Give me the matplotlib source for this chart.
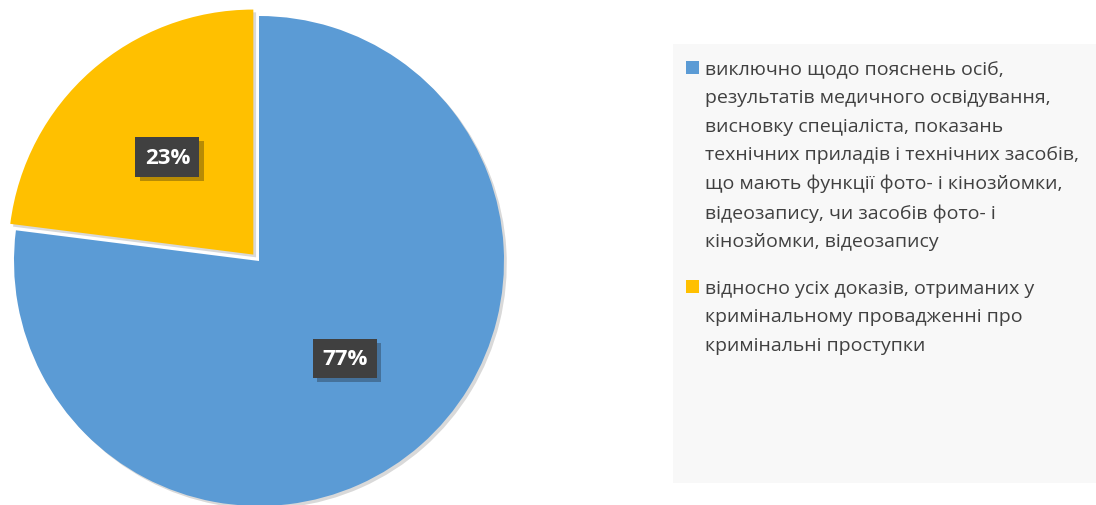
import matplotlib.pyplot as plt
import matplotlib.patches as mpatches
import matplotlib.patheffects as pe

plt.rcParams['font.family'] = ['Open Sans', 'DejaVu Sans']

# categories and shares (%)
categories = [
	'виключно щодо пояснень осіб,\nрезультатів медичного освідування,\nвисновку спеціаліста, показань\n'
	'технічних приладів і технічних засобів,\nщо мають функції фото- і кінозйомки,\n'
	'відеозапису, чи засобів фото- і\nкінозйомки, відеозапису',
	'відносно усіх доказів, отриманих у\nкримінальному провадженні про\nкримінальні проступки',
]
shares = [77, 23]
colors = ['#5B9BD5', '#FFC000']

W, H = 1096, 506
fig = plt.figure(figsize=(W / 100, H / 100), dpi=100)
fig.patch.set_facecolor('white')

# pie axes: centre (259, 262) px, radius 245 px
cx, cy, r = 259, 262, 245
ax = fig.add_axes([(cx - r) / W, (H - cy - r) / H, 2 * r / W, 2 * r / H])

wedges, texts, autotexts = ax.pie(
	shares, colors=colors, startangle=90, counterclock=False,
	explode=[0, 0.035], autopct='%d%%', pctdistance=0.53,
	wedgeprops=dict(linewidth=0),
	textprops=dict(color='white', fontsize=16, fontweight='bold'))
ax.set_xlim(-1, 1)
ax.set_ylim(-1, 1)
ax.set_aspect('equal')
ax.axis('off')

for w in wedges:
	w.set_path_effects([pe.SimplePatchShadow(offset=(2, -2), shadow_rgbFace='black', alpha=0.15), pe.Normal()])

for t in autotexts:
	t.set_bbox(dict(boxstyle='square,pad=0.42', facecolor='#404040', edgecolor='none', linewidth=0))
	t.get_bbox_patch().set_path_effects([pe.SimplePatchShadow(offset=(3, -3), alpha=0.3), pe.Normal()])

# legend panel
fig.add_artist(mpatches.Rectangle((673 / W, 1 - 484 / H), (W - 673) / W, (484 - 45) / H,
                                  transform=fig.transFigure, facecolor='#F8F8F8', edgecolor='none'))

tops = [62, 281]
for label, color, top in zip(categories, colors, tops):
	fig.add_artist(mpatches.Rectangle((686 / W, 1 - (top + 13) / H), 13 / W, 13 / H,
	                                  transform=fig.transFigure, facecolor=color, edgecolor='none'))
	fig.text(705 / W, 1 - (top - 1) / H, label, ha='left', va='top', fontsize=14,
	         color='#404040', linespacing=1.74)

fig.savefig('out.png', dpi=100)
